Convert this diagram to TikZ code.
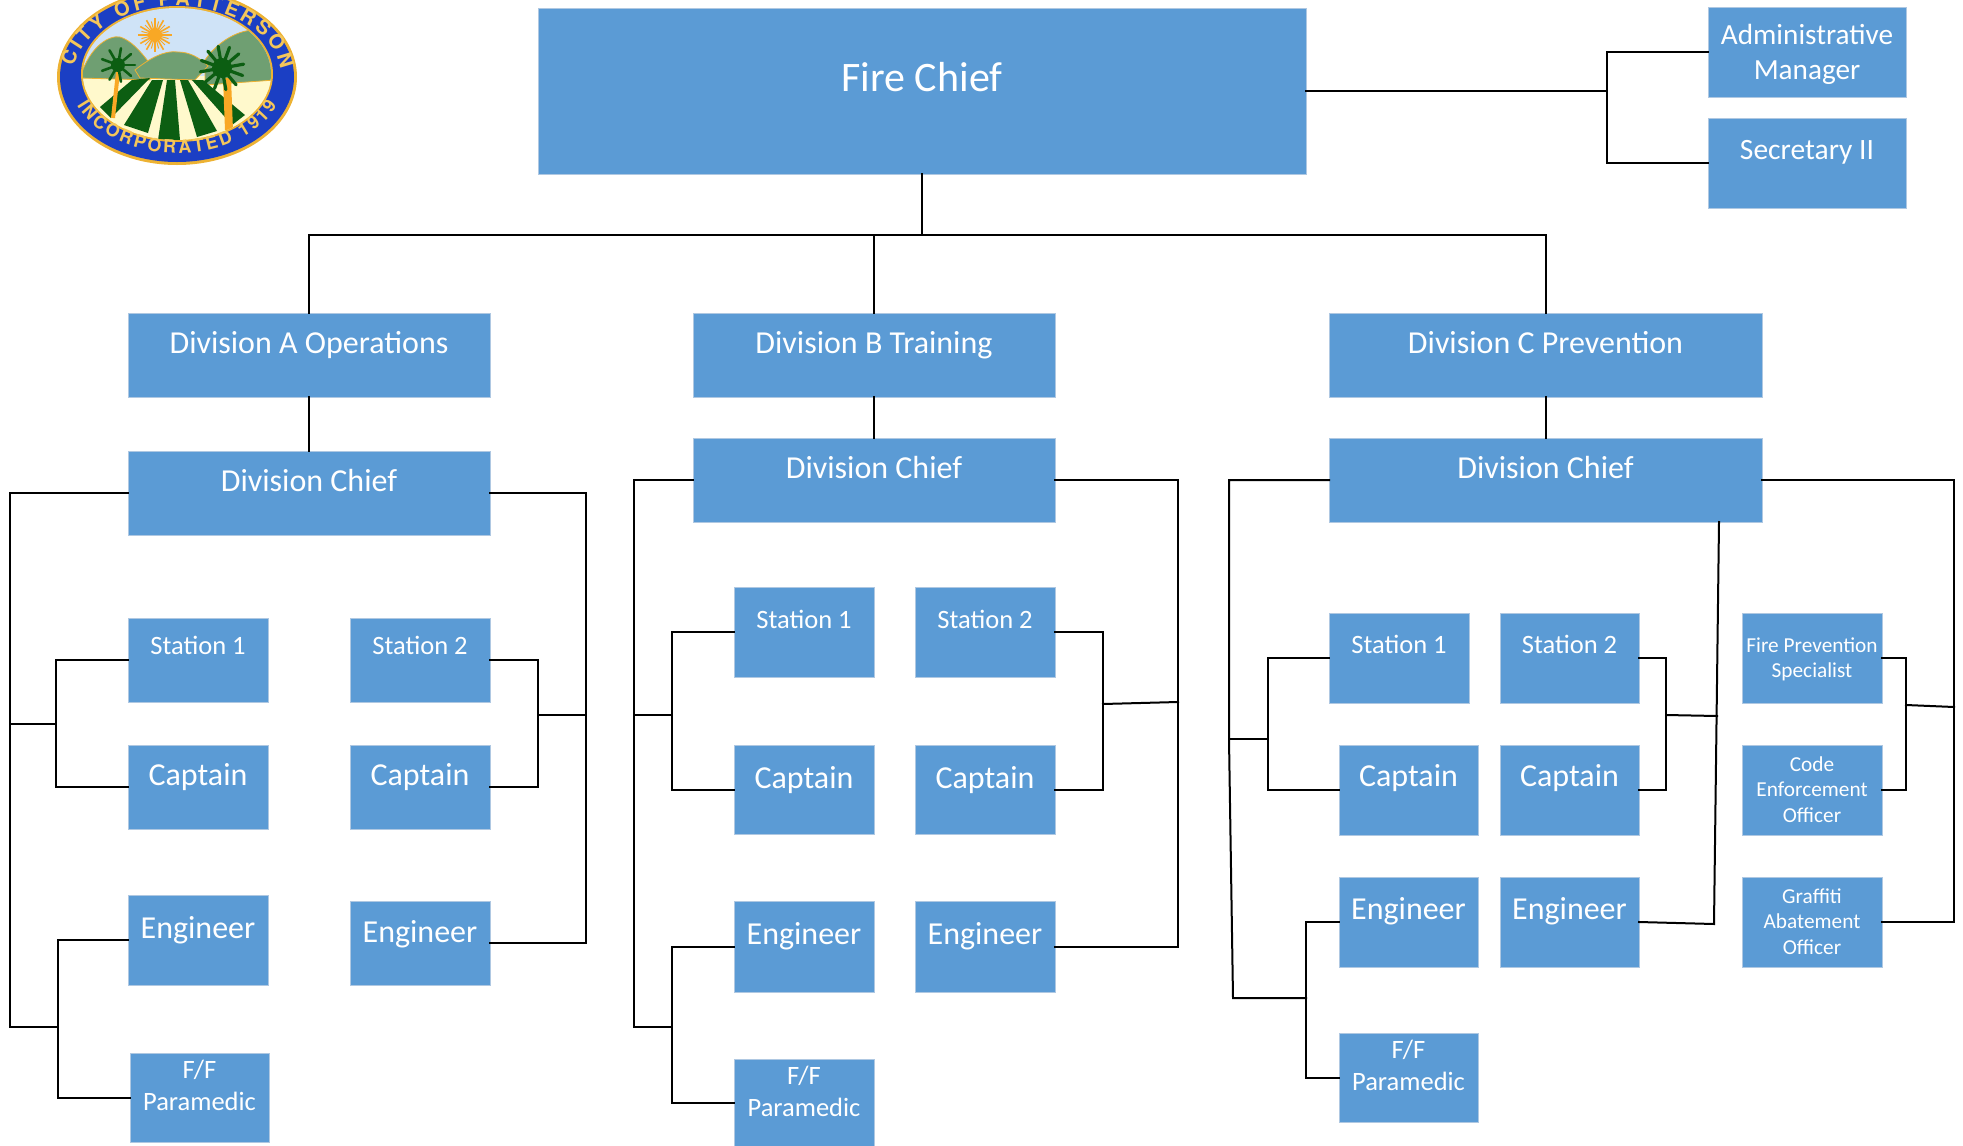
\documentclass[tikz,border=0pt]{standalone}
\usepackage{fontspec}
\setmainfont{Carlito}
\newfontfamily\logofont{TeX Gyre Heros}
\usetikzlibrary{decorations.text}
\definecolor{boxfill}{HTML}{5B9BD5}
\definecolor{boxedge}{HTML}{AFC8E2}
\definecolor{sealblue}{HTML}{1B3FC4}
\definecolor{sealgold}{HTML}{EDB233}
\definecolor{sealtext}{HTML}{F4C65A}
\definecolor{sealsky}{HTML}{CFE3F7}
\definecolor{sealhill}{HTML}{6F9F72}
\definecolor{sealcream}{HTML}{FFF9CC}
\definecolor{sealgreen}{HTML}{0C5E12}
\definecolor{sealsun}{HTML}{F9A825}
\tikzset{
  orgbox/.style={draw=boxedge,line width=1pt,fill=boxfill,text=white,inner sep=0pt,outer sep=0pt},
  wire/.style={draw=black,line width=2pt,line join=miter,line cap=rect},
  frond/.style={draw=sealgreen,line width=2.6pt,line cap=round}
}
\newcommand{\bx}[8]{%
  \pgfmathsetmacro\bw{#4-#2}\pgfmathsetmacro\bh{#5-#3}%
  \pgfmathsetmacro\bcx{(#2+#4)/2}\pgfmathsetmacro\bcy{(#3+#5)/2}%
  \pgfmathsetmacro\bd{#6-#3-0.75*#7}\pgfmathsetmacro\bl{1.22*#7}%
  \node[orgbox,minimum width=\bw pt,minimum height=\bh pt] (#1) at (\bcx,\bcy)
    {\parbox[c][\bh pt][t]{\bw pt}{\vspace*{\bd pt}\centering\fontsize{#7pt}{\bl pt}\selectfont\rule{0pt}{0.75em}#8}};}
\begin{document}
\begin{tikzpicture}[x=1pt,y=-1pt]
\useasboundingbox (0,0) rectangle (1963,1146);
% seal
\begin{scope}
\clip (0,0) rectangle (400,200);
\fill[sealgold] (177,77) ellipse [x radius=120,y radius=88];
\fill[sealblue] (177,77) ellipse [x radius=117,y radius=85];
\fill[sealgold] (177,74) ellipse [x radius=96,y radius=68];
\begin{scope}
\clip (177,74) ellipse [x radius=94,y radius=66];
\fill[sealsky] (70,0) rectangle (290,90);
\fill[sealcream] (70,76) rectangle (290,150);
\fill[sealhill,draw=sealgold,line width=.8pt] (80,78) .. controls (90,45) and (110,35) .. (120,37) .. controls (130,40) and (140,50) .. (150,64) -- (150,80) -- cycle;
\fill[sealhill,draw=sealgold,line width=.8pt] (205,60) .. controls (215,45) and (235,30) .. (255,30) .. controls (265,40) and (275,60) .. (275,80) -- (205,85) -- cycle;
\fill[sealhill,draw=sealgold,line width=.8pt] (135,70) .. controls (150,58) and (165,50) .. (178,52) .. controls (190,52) and (200,58) .. (208,66) -- (195,80) -- (140,78) -- cycle;
\fill[sealgreen] (150,78) -- (132,80) -- (100,107) -- (111,118) -- cycle;
\fill[sealgreen] (163,80) -- (152,80) -- (124,125) -- (148,133) -- cycle;
\fill[sealgreen] (175,80) -- (167,80) -- (158,140) -- (180,140) -- cycle;
\fill[sealgreen] (188,80) -- (180,80) -- (197,137) -- (217,131) -- cycle;
\fill[sealgreen] (203,80) -- (192,80) -- (232,125) -- (245,115) -- cycle;
\foreach \a in {0,30,...,330}{\draw[sealsun,line width=1.6pt] (155,35) -- ++(\a:17);}
\foreach \a in {15,45,...,345}{\draw[sealsun,line width=1pt] (155,35) -- ++(\a:14);}
\fill[sealsun] (155,35) circle (7);
\draw[sealsun,line width=4pt] (118,72) -- (113,118);
\draw[sealsun,line width=8pt] (227,78) -- (229,130);
\foreach \a in {0,40,...,320}{\draw[frond] (118,65) -- ++(\a:17);}
\foreach \a in {-10,20,...,340}{\draw[frond,line width=3.2pt] (222,68) -- ++(\a:22);}
\fill[sealgreen] (118,65) circle (7);
\fill[sealgreen] (222,68) circle (10);
\end{scope}
\begin{scope}[shift={(177,77)},y=1pt]
\path[decorate,decoration={text along path,text align=fit to path,
  text={|\logofont\bfseries\fontsize{20pt}{20pt}\selectfont\color{sealtext}|CITY OF PATTERSON}}]
  (172:104 and 71) arc [start angle=172,end angle=6,x radius=104,y radius=71];
\path[decorate,decoration={text along path,text align=fit to path,
  text={|\logofont\bfseries\fontsize{18pt}{18pt}\selectfont\color{sealtext}|INCORPORATED 1919}}]
  (202:108 and 76) arc [start angle=202,end angle=338,x radius=108,y radius=76];
\end{scope}
\end{scope}
% top row
\bx{chief}{538}{8}{1306}{174}{91}{42}{Fire Chief}
\bx{admin}{1708}{7}{1906}{97}{44}{29.2}{Administrative\\Manager}
\bx{secy}{1708}{118}{1906}{208}{159}{29.5}{Secretary II}
% division A
\bx{divA}{128}{313}{490}{397}{353}{32}{Division A Operations}
\bx{chfA}{128}{451}{490}{535}{491}{32}{Division Chief}
\bx{stA}{128}{618}{268}{702}{654}{26.5}{Station 1}
\bx{stB}{350}{618}{490}{702}{654}{26.5}{Station 2}
\bx{capA}{128}{745}{268}{829}{785}{32}{Captain}
\bx{capB}{350}{745}{490}{829}{785}{32}{Captain}
\bx{engA}{128}{895}{268}{985}{938}{32}{Engineer}
\bx{engB}{350}{901}{490}{985}{942}{32}{Engineer}
\bx{ffA}{130}{1053}{269}{1142}{1078}{26.5}{F/F\\Paramedic}
% division B
\bx{divB}{693}{313}{1055}{397}{353}{32}{Division B Training}
\bx{chfB}{693}{438}{1055}{522}{478}{32}{Division Chief}
\bx{stC}{734}{587}{874}{677}{628}{26.5}{Station 1}
\bx{stD}{915}{587}{1055}{677}{628}{26.5}{Station 2}
\bx{capC}{734}{745}{874}{834}{788}{32}{Captain}
\bx{capD}{915}{745}{1055}{834}{788}{32}{Captain}
\bx{engC}{734}{901}{874}{992}{944}{32}{Engineer}
\bx{engD}{915}{901}{1055}{992}{944}{32}{Engineer}
\bx{ffB}{734}{1059}{874}{1146}{1084}{26.5}{F/F\\Paramedic}
% division C
\bx{divC}{1329}{313}{1762}{397}{353}{32}{Division C Prevention}
\bx{chfC}{1329}{438}{1762}{522}{478}{32}{Division Chief}
\bx{stE}{1329}{613}{1469}{703}{653}{26.5}{Station 1}
\bx{stF}{1500}{613}{1639}{703}{653}{26.5}{Station 2}
\bx{capE}{1339}{745}{1478}{835}{786}{32}{Captain}
\bx{capF}{1500}{745}{1639}{835}{786}{32}{Captain}
\bx{engE}{1339}{877}{1478}{967}{919}{32}{Engineer}
\bx{engF}{1500}{877}{1639}{967}{919}{32}{Engineer}
\bx{ffC}{1339}{1033}{1478}{1122}{1058}{26.5}{F/F\\Paramedic}
\bx{fps}{1742}{613}{1882}{703}{652}{21.3}{Fire Prevention\\Specialist}
\bx{ceo}{1742}{745}{1882}{835}{771}{21.3}{Code\\Enforcement\\Officer}
\bx{gao}{1742}{877}{1882}{967}{903}{21.3}{Graffiti\\Abatement\\Officer}
% junctions
\coordinate (top) at (922,235);
\coordinate (rt) at (1607,91);
\coordinate (trA) at (10,1027);
\coordinate (brA) at (56,724);
\coordinate (brB) at (538,715);
\coordinate (brL) at (58,1027);
\coordinate (rtA) at (586,715);
\coordinate (trB) at (634,1027);
\coordinate (brC) at (672,715);
\coordinate (brD) at (1103,704);
\coordinate (brM) at (672,1027);
\coordinate (rtB) at (1178,702);
\coordinate (trC) at (1229,739);
\coordinate (trD) at (1233,998);
\coordinate (brE) at (1268,739);
\coordinate (brF) at (1666,715);
\coordinate (brN) at (1306,998);
\coordinate (mid) at (1717,716);
\coordinate (midB) at (1714,924);
\coordinate (midT) at (1719,522);
\coordinate (brG) at (1906,705);
\coordinate (rtC) at (1954,707);
% top connectors
\draw[wire] (chief.south) -- (top);
\draw[wire] (divA.north) -- (divA.north |- top) -- (divC.north |- top) -- (divC.north);
\draw[wire] (divB.north) -- (divB.north |- top);
\draw[wire] (chief.east |- rt) -- (rt);
\draw[wire] (admin.west) -- (admin.west -| rt) -- (secy.west -| rt) -- (secy.west);
\draw[wire] (divA.south) -- (chfA.north);
\draw[wire] (divB.south) -- (chfB.north);
\draw[wire] (divC.south) -- (chfC.north);
% division A connectors
\draw[wire] (chfA.west) -- (chfA.west -| trA) -- (trA) -- (brL);
\draw[wire] (stA.west) -- (stA.west -| brA) -- (capA.west -| brA) -- (capA.west);
\draw[wire] (brA) -- (brA -| trA);
\draw[wire] (engA.west) -- (engA.west -| brL) -- (ffA.west -| brL) -- (ffA.west);
\draw[wire] (stB.east) -- (stB.east -| brB) -- (capB.east -| brB) -- (capB.east);
\draw[wire] (brB) -- (rtA);
\draw[wire] (chfA.east) -- (chfA.east -| rtA) -- (engB.east -| rtA) -- (engB.east);
% division B connectors
\draw[wire] (chfB.west) -- (chfB.west -| trB) -- (trB) -- (brM);
\draw[wire] (stC.west) -- (stC.west -| brC) -- (capC.west -| brC) -- (capC.west);
\draw[wire] (brC) -- (brC -| trB);
\draw[wire] (engC.west) -- (engC.west -| brM) -- (ffB.west -| brM) -- (ffB.west);
\draw[wire] (stD.east) -- (stD.east -| brD) -- (capD.east -| brD) -- (capD.east);
\draw[wire] (brD) -- (rtB);
\draw[wire] (chfB.east) -- (chfB.east -| rtB) -- (engD.east -| rtB) -- (engD.east);
% division C connectors
\draw[wire] (chfC.west) -- (chfC.west -| trC) -- (trC) -- (trD) -- (brN);
\draw[wire] (stE.west) -- (stE.west -| brE) -- (capE.west -| brE) -- (capE.west);
\draw[wire] (brE) -- (trC);
\draw[wire] (engE.west) -- (engE.west -| brN) -- (ffC.west -| brN) -- (ffC.west);
\draw[wire] (stF.east) -- (stF.east -| brF) -- (capF.east -| brF) -- (capF.east);
\draw[wire] (brF) -- (mid);
\draw[wire] (midT) -- (midB) -- (engF.east);
\draw[wire] (fps.east) -- (fps.east -| brG) -- (ceo.east -| brG) -- (ceo.east);
\draw[wire] (brG) -- (rtC);
\draw[wire] (chfC.east) -- (chfC.east -| rtC) -- (gao.east -| rtC) -- (gao.east);
\end{tikzpicture}
\end{document}
